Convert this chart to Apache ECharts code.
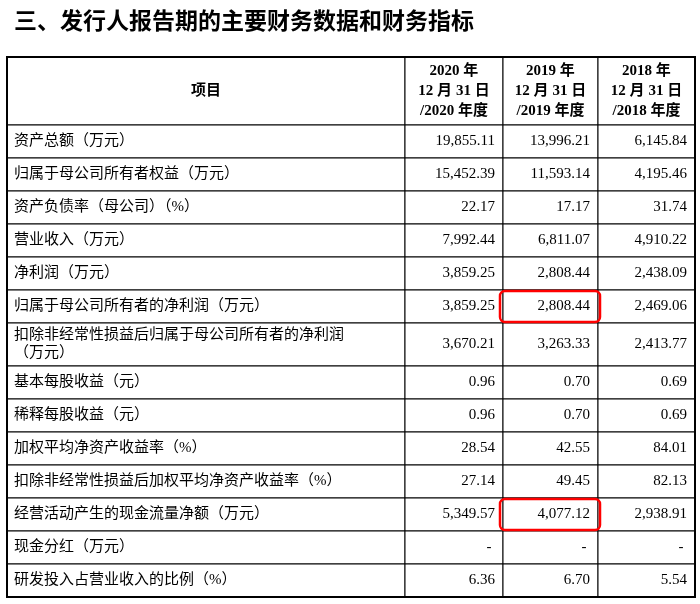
<!DOCTYPE html>
<html><head><meta charset="utf-8">
<script src="https://cdn.jsdelivr.net/npm/echarts@6/dist/echarts.min.js"></script>
<style>html,body{margin:0;padding:0;background:#fff}#c{width:700px;height:604px}</style>
</head><body><div id="c"></div>
<script>
const titleText = '三、发行人报告期的主要财务数据和财务指标';
const headers = ['项目', '2020 年\n12 月 31 日\n/2020 年度', '2019 年\n12 月 31 日\n/2019 年度', '2018 年\n12 月 31 日\n/2018 年度'];
const items = ['资产总额（万元）','归属于母公司所有者权益（万元）','资产负债率（母公司）（%）','营业收入（万元）','净利润（万元）','归属于母公司所有者的净利润（万元）','扣除非经常性损益后归属于母公司所有者的净利润\n（万元）','基本每股收益（元）','稀释每股收益（元）','加权平均净资产收益率（%）','扣除非经常性损益后加权平均净资产收益率（%）','经营活动产生的现金流量净额（万元）','现金分红（万元）','研发投入占营业收入的比例（%）'];
const v2020 = ['19,855.11','15,452.39','22.17','7,992.44','3,859.25','3,859.25','3,670.21','0.96','0.96','28.54','27.14','5,349.57','-','6.36'];
const v2019 = ['13,996.21','11,593.14','17.17','6,811.07','2,808.44','2,808.44','3,263.33','0.70','0.70','42.55','49.45','4,077.12','-','6.70'];
const v2018 = ['6,145.84','4,195.46','31.74','4,910.22','2,438.09','2,469.06','2,413.77','0.69','0.69','84.01','82.13','2,938.91','-','5.54'];
const highlighted = [[5,2],[11,2]];

const colEdges = [7,405,503,598,695];
const rowH = [68].concat(items.map((t,i)=> i===6 ? 43 : 33));
const rowEdges = [57]; rowH.forEach(h=>rowEdges.push(rowEdges[rowEdges.length-1]+h));
const cols = [null, v2020, v2019, v2018];
const FONT = '"Liberation Serif","Noto Sans CJK SC",serif';

const cells = [];
for (let r=0;r<=items.length;r++) for (let c=0;c<4;c++) cells.push([c,r]);

function renderCell(params, api){
  const c = api.value(0), r = api.value(1);
  const p0 = api.coord([colEdges[c], rowEdges[r]]);
  const p1 = api.coord([colEdges[c+1], rowEdges[r+1]]);
  const w = p1[0]-p0[0], h = p1[1]-p0[1];
  let text, align, x, bold=false;
  if (r===0){ text = headers[c]; align='center'; x=p0[0]+w/2; bold=true; }
  else if (c===0){ text = items[r-1]; align='left'; x=p0[0]+7; }
  else { text = cols[c][r-1]; align = text==='-' ? 'center':'right'; x = text==='-' ? p1[0]-14 : p1[0]-8; }
  const children = [
    {type:'rect', shape:{x:p0[0],y:p0[1],width:w,height:h}, style:{fill:'#fff',stroke:'#000',lineWidth:1}},
    {type:'text', style:{text, x, y:p0[1]+h/2, align, verticalAlign:'middle', font:(bold?'bold ':'')+'15px '+FONT, fill:'#000', lineHeight:r===0?20:18}}
  ];
  if (r>0 && c>0 && highlighted.some(hh=>hh[0]===r-1 && hh[1]===c)){
    children.push({type:'rect', shape:{x:p0[0]-3,y:p0[1]+1,width:w+5,height:h-2,r:5}, style:{fill:'none',stroke:'#ff0000',lineWidth:2.5}, z2:10});
  }
  return {type:'group', children};
}

const chart = echarts.init(document.getElementById('c'));
chart.setOption({
  animation:false,
  title:{text:titleText, left:9, top:4, textStyle:{fontFamily:'"Noto Sans CJK SC"', fontSize:23, fontWeight:'bold', color:'#000'}},
  grid:{left:0,right:0,top:0,bottom:0},
  xAxis:{type:'value',min:0,max:700,show:false},
  yAxis:{type:'value',min:0,max:604,inverse:true,show:false},
  series:[
    {type:'custom', renderItem:renderCell, data:cells, clip:false},
    {type:'custom', data:[[0,0]], z:5, renderItem:(p,api)=>{
      const a=api.coord([colEdges[0],rowEdges[0]]), b=api.coord([colEdges[4],rowEdges[rowEdges.length-1]]);
      return {type:'rect', shape:{x:a[0],y:a[1],width:b[0]-a[0],height:b[1]-a[1]}, style:{fill:'none',stroke:'#000',lineWidth:2}};
    }}
  ]
});
</script></body></html>
